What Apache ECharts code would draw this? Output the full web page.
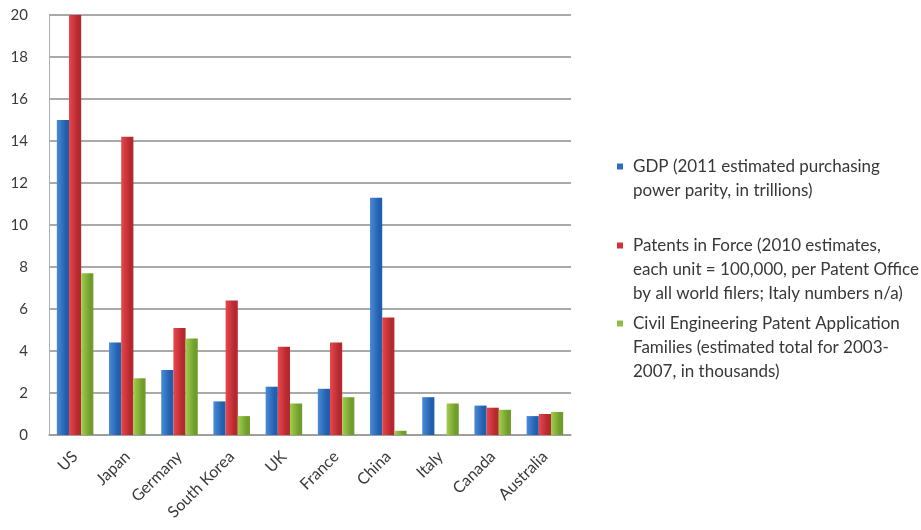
<!DOCTYPE html>
<html><head><meta charset="utf-8">
<script src="https://cdn.jsdelivr.net/npm/echarts@6/dist/echarts.min.js"></script>
<style>html,body{margin:0;padding:0;background:#fff}#c{width:921px;height:530px}</style>
</head><body><div id="c"></div>
<script>
const categories = ['US','Japan','Germany','South Korea','UK','France','China','Italy','Canada','Australia'];
const gdp = [15.0, 4.4, 3.1, 1.6, 2.3, 2.2, 11.3, 1.8, 1.4, 0.9];
const patents = [20.0, 14.2, 5.1, 6.4, 4.2, 4.4, 5.6, 0.0, 1.3, 1.0];
const civil = [7.7, 2.7, 4.6, 0.9, 1.5, 1.8, 0.2, 1.5, 1.2, 1.1];
const yTicks = [0,2,4,6,8,10,12,14,16,18,20];
const seriesNames = [
  'GDP (2011 estimated purchasing\npower parity, in trillions)',
  'Patents in Force (2010 estimates,\neach unit = 100,000, per Patent Office\nby all world filers; Italy numbers n/a)',
  'Civil Engineering Patent Application\nFamilies (estimated total for 2003-\n2007, in thousands)'
];
const legendColors = ['#2a6fc0','#d2333a','#8dbf45'];

function grad(a,b){return new echarts.graphic.LinearGradient(0,0,1,0,[{offset:0,color:a},{offset:0.75,color:b},{offset:1,color:b}]);}
const font = 'Lato, "Open Sans", sans-serif';
const LH = 24;
function legendFor(i, top){
  return {
    data:[seriesNames[i]], left:607, top:top, orient:'vertical',
    icon:'none', itemWidth:0, itemHeight:0, itemGap:0,
    formatter:function(name){
      const lines = name.split('\n');
      return lines.map((l,k)=> (k===0 ? '{sq|}{sp|}' : '{ind|}') + '{t|' + l + '}').join('\n');
    },
    textStyle:{
      rich:{
        sq:{width:6, height:6, backgroundColor:legendColors[i]},
        sp:{width:10},
        ind:{width:16},
        t:{fontFamily:font, fontSize:17, color:'#383838', lineHeight:LH}
      }
    }
  };
}
const chart = echarts.init(document.getElementById('c'));
chart.setOption({
  animation:false,
  backgroundColor:'#fff',
  grid:{left:49, right:350, top:15, bottom:95},
  legend:[legendFor(0,153), legendFor(1,232), legendFor(2,310)],
  xAxis:{
    type:'category', data:categories,
    axisLine:{lineStyle:{color:'#9a9a9a', width:1.5}},
    axisTick:{show:false},
    axisLabel:{rotate:45, fontFamily:font, fontSize:16, color:'#3a3a3a', margin:19, interval:0}
  },
  yAxis:{
    type:'value', min:0, max:20, interval:2,
    axisLine:{show:true, lineStyle:{color:'#b0b0b0'}},
    axisTick:{show:false},
    splitLine:{lineStyle:{color:'#8c8c8c', width:1.5}},
    axisLabel:{fontFamily:font, fontSize:15, color:'#3a3a3a', margin:21,
      formatter:v=>yTicks.includes(v)?String(v):''}
  },
  series:[
    {name:seriesNames[0], type:'bar', data:gdp, barGap:'0%', barCategoryGap:'30%',
      itemStyle:{color:grad('#4a8ad6','#1f5fae')}},
    {name:seriesNames[1], type:'bar', data:patents, barGap:'0%', barCategoryGap:'30%',
      itemStyle:{color:grad('#e8474d','#b4282e')}},
    {name:seriesNames[2], type:'bar', data:civil, barGap:'0%', barCategoryGap:'30%',
      itemStyle:{color:grad('#a0cf4e','#6f9c2a')}}
  ]
});
</script></body></html>
